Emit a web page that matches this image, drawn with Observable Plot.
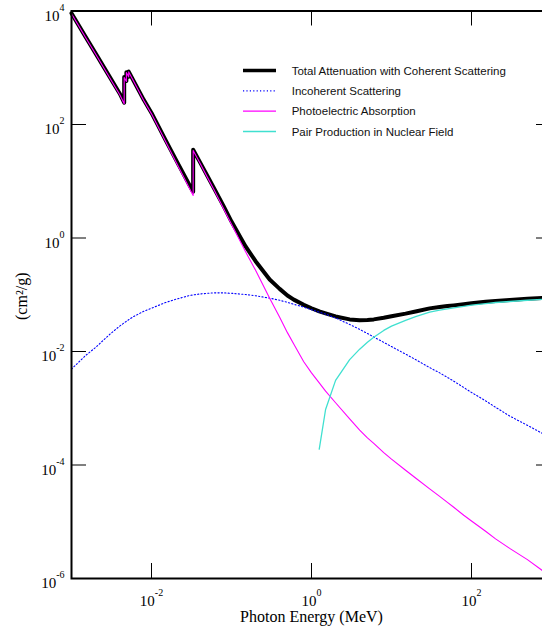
<!DOCTYPE html>
<html>
<head>
<meta charset="utf-8">
<script src="https://cdn.jsdelivr.net/npm/d3@7"></script>
<script src="https://cdn.jsdelivr.net/npm/@observablehq/plot@0.6"></script>
<style>
  html, body { margin: 0; padding: 0; background: #fff; overflow: hidden; }
  #wrap { position: relative; width: 542px; height: 629px; overflow: hidden; background: #fff; }
  #chart svg { max-width: none !important; width: 552px; height: 629px; display: block; }
  #legend { position: absolute; left: 0; top: 0; }
</style>
</head>
<body>
<div id="wrap"><div id="chart"></div></div>
<script>
// ---- Data (photon energy in MeV, mass attenuation in cm^2/g) ----
const totalEnergy = [1e-3, 1.5e-3, 2e-3, 3e-3, 4e-3, 4.557e-3, 4.557e-3, 4.852e-3, 4.852e-3, 5.188e-3, 5.188e-3,
  6e-3, 8e-3, 1e-2, 1.5e-2, 2e-2, 3e-2, 3.317e-2, 3.317e-2, 4e-2, 5e-2, 6e-2, 8e-2, 0.1, 0.15, 0.2, 0.3, 0.4,
  0.5, 0.6, 0.8, 1, 1.25, 1.5, 2, 3, 4, 5, 6, 8, 10, 15, 20, 30, 40, 50, 60, 80, 100, 150, 200, 300, 500, 800, 1000];
const totalValue = [9100, 3500, 1790, 690, 352, 242, 684, 584, 834, 698, 855,
  580, 272, 160, 53, 24.5, 8.4, 6.5, 35.8, 22.2, 12.4, 7.7, 3.6, 1.95, 0.71, 0.39, 0.185, 0.127,
  0.097, 0.082, 0.0665, 0.0578, 0.0508, 0.0468, 0.0415, 0.0368, 0.0355, 0.0359, 0.0368, 0.0393, 0.0419,
  0.0465, 0.0506, 0.0575, 0.0607, 0.0631, 0.065, 0.0681, 0.0708, 0.075, 0.0778, 0.0807, 0.0847, 0.0878, 0.0888];

const photoEnergy = totalEnergy;
const photoValue = [8950, 3420, 1745, 668, 339, 232, 674, 574, 824, 688, 845,
  570, 264, 154, 50, 22.6, 7.4, 5.6, 34.9, 21.3, 11.7, 7.2, 3.25, 1.75, 0.57, 0.27, 0.087, 0.040,
  0.0215, 0.0135, 0.0066, 0.0042, 0.0028, 0.0020, 0.00125, 0.00065, 0.00041, 0.00030, 0.00024, 0.000165, 0.000127,
  8.1e-5, 5.9e-5, 3.8e-5, 2.8e-5, 2.2e-5, 1.8e-5, 1.3e-5, 1.03e-5, 6.8e-6, 5.0e-6, 3.4e-6, 2.15e-6, 1.33e-6, 1.06e-6];

const incohEnergy = [1e-3, 1.5e-3, 2e-3, 3e-3, 4e-3, 5e-3, 6e-3, 8e-3, 1e-2, 1.5e-2, 2e-2, 3e-2, 4e-2, 5e-2, 6e-2,
  8e-2, 0.1, 0.15, 0.2, 0.3, 0.4, 0.5, 0.6, 0.8, 1, 1.5, 2, 3, 4, 5, 6, 8, 10, 15, 20, 30, 40, 50, 60, 80, 100,
  150, 200, 300, 500, 800, 1000];
const incohValue = [0.0049, 0.0085, 0.0118, 0.0200, 0.0280, 0.0351, 0.0415, 0.051, 0.058, 0.073, 0.083, 0.097,
  0.103, 0.106, 0.108, 0.108, 0.106, 0.101, 0.096, 0.087, 0.080, 0.0735, 0.068, 0.0605, 0.0545, 0.0455, 0.039,
  0.030, 0.0245, 0.0208, 0.018, 0.0145, 0.0122, 0.009, 0.0072, 0.0052, 0.0042, 0.0035, 0.0030, 0.00232, 0.0019,
  0.00135, 0.00104, 0.00073, 0.0005, 0.00035, 0.00029];

const pairEnergy = [1.25, 1.5, 2, 3, 4, 5, 6, 8, 10, 15, 20, 30, 40, 50, 60, 80, 100, 150, 200, 300, 500, 800, 1000];
const pairValue = [1.9e-4, 9.5e-4, 3.1e-3, 7.2e-3, 0.0110, 0.0145, 0.0178, 0.0235, 0.028, 0.0355, 0.041, 0.0495,
  0.0535, 0.0565, 0.0588, 0.0625, 0.0655, 0.070, 0.073, 0.076, 0.080, 0.083, 0.084];

const xTicks = [1e-2, 1, 1e2];
const yTicks = [1e-6, 1e-4, 1e-2, 1, 1e2, 1e4];

const seriesNames = ["Total Attenuation with Coherent Scattering", "Incoherent Scattering",
  "Photoelectric Absorption", "Pair Production in Nuclear Field"];
const seriesColors = ["#000000", "#0000ff", "#ff00ff", "#40e0d0"];

const xLabel = "Photon Energy (MeV)";
const yLabel = "(cm²/g)";

// ---- Tables ----
const zip = (xs, ys) => xs.map((x, i) => ({x, y: ys[i]}));
const total = zip(totalEnergy, totalValue);
const photo = zip(photoEnergy, photoValue);
const incoh = zip(incohEnergy, incohValue);
const pair = zip(pairEnergy, pairValue);

const W = 552, H = 629, mL = 71, mR = 1, mT = 10.5, mB = 51;
const plotW = W - mL - mR, plotH = H - mT - mB;
const expOf = d => String(Math.round(Math.log10(d)));
const serif = "'Liberation Serif', 'Times New Roman', serif";

const chart = Plot.plot({
  width: W, height: H,
  marginLeft: mL, marginRight: mR, marginTop: mT, marginBottom: mB,
  x: {type: "log", domain: [1e-3, 1e3], axis: null},
  y: {type: "log", domain: [1e-6, 1e4], axis: null},
  style: {background: "white", fontFamily: serif, fontSize: "15px", color: "black", maxWidth: "none"},
  marks: [
    // inward ticks on all four sides
    Plot.ruleX(xTicks, {x: d => d, insetTop: plotH - 15, stroke: "black", strokeWidth: 1}),
    Plot.ruleX(xTicks, {x: d => d, insetBottom: plotH - 15, stroke: "black", strokeWidth: 1}),
    Plot.ruleY(yTicks, {y: d => d, insetRight: plotW - 15, stroke: "black", strokeWidth: 1}),
    Plot.ruleY(yTicks, {y: d => d, insetLeft: plotW - 15, stroke: "black", strokeWidth: 1}),
    // tick labels
    Plot.text(xTicks, {x: d => d, frameAnchor: "bottom", text: expOf, textAnchor: "middle", lineAnchor: "middle",
      dy: 22.9, fontFamily: serif, fontSize: 15, fill: "black"}),
    Plot.text(yTicks, {y: d => d, frameAnchor: "left", text: expOf, textAnchor: "end", lineAnchor: "middle",
      dx: -7, dy: 4.7, fontFamily: serif, fontSize: 15, fill: "black"}),
    // axis titles
    Plot.text([xLabel], {frameAnchor: "bottom", text: d => d, textAnchor: "middle", lineAnchor: "middle",
      dy: 38.6, fontFamily: serif, fontSize: 16, fill: "black"}),
    Plot.text([yLabel], {frameAnchor: "left", text: d => d, rotate: -90, textAnchor: "middle", lineAnchor: "middle",
      dx: -50, dy: 1.5, fontFamily: serif, fontSize: 16, fill: "black"}),
    // curves
    Plot.line(total, {x: "x", y: "y", stroke: seriesColors[0], strokeWidth: 4, strokeLinejoin: "round"}),
    Plot.line(incoh, {x: "x", y: "y", stroke: seriesColors[1], strokeWidth: 1.1, strokeDasharray: "1.2,2.2"}),
    Plot.line(photo, {x: "x", y: "y", stroke: seriesColors[2], strokeWidth: 1.1}),
    Plot.line(pair, {x: "x", y: "y", stroke: seriesColors[3], strokeWidth: 1.3}),
    Plot.frame({stroke: "black", strokeWidth: 2})
  ]
});

// superscript exponents on tick labels: "10" + raised exponent
const NS = "http://www.w3.org/2000/svg";
chart.querySelectorAll("text").forEach(t => {
  const s = t.textContent;
  if (/^-?\d+$/.test(s)) {
    t.textContent = "";
    const base = document.createElementNS(NS, "tspan");
    base.textContent = "10";
    const sup = document.createElementNS(NS, "tspan");
    sup.setAttribute("dy", "-10");
    sup.setAttribute("font-size", "10");
    sup.textContent = s;
    t.append(base, sup);
  }
});
chart.style.maxWidth = "none";
document.getElementById("chart").append(chart);

// ---- Legend (overlay) ----
const lg = d3.select("#wrap").append("svg").attr("id", "legend").attr("width", 542).attr("height", 160);
const rowY = i => 70.6 + i * 20.3;
const lineStyles = [
  {w: 3.5, dash: null},
  {w: 1.1, dash: "1.2,2.2"},
  {w: 1.3, dash: null},
  {w: 1.5, dash: null}
];
seriesNames.forEach((name, i) => {
  const ln = lg.append("line").attr("x1", 243).attr("x2", 276).attr("y1", rowY(i)).attr("y2", rowY(i))
    .attr("stroke", seriesColors[i]).attr("stroke-width", lineStyles[i].w);
  if (lineStyles[i].dash) ln.attr("stroke-dasharray", lineStyles[i].dash);
  lg.append("text").attr("x", 291.7).attr("y", rowY(i) + 4.1)
    .attr("font-family", "'Liberation Sans', Arial, Helvetica, sans-serif").attr("font-size", 11.5)
    .attr("fill", "#111").text(name);
});
</script>
</body>
</html>
